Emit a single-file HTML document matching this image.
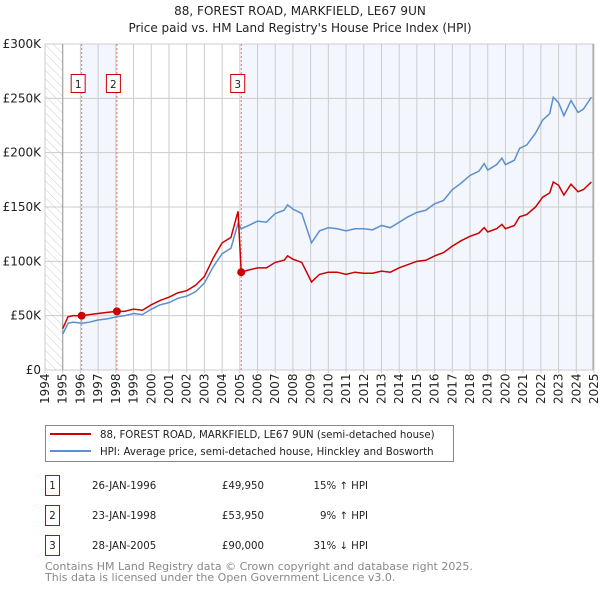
<!DOCTYPE html>
<html><head><meta charset="utf-8"><style>
body{margin:0;background:#fff}
svg{display:block;font-family:"DejaVu Sans","Liberation Sans",sans-serif}
</style></head><body>
<svg id="c" width="600" height="590" xmlns="http://www.w3.org/2000/svg">
<defs><pattern id="hatch" width="6" height="6" patternUnits="userSpaceOnUse" patternTransform="rotate(-45)"><line x1="0" y1="0" x2="0" y2="6" stroke="#ccc" stroke-width="1"/></pattern></defs>
<text x="300" y="15" text-anchor="middle" font-size="12" fill="#222">88, FOREST ROAD, MARKFIELD, LE67 9UN</text>
<text x="300" y="32" text-anchor="middle" font-size="12" fill="#222">Price paid vs. HM Land Registry's House Price Index (HPI)</text>
<g id="plot"></g>
<g>
<rect x="45.5" y="425.5" width="408" height="36" fill="#fff" stroke="#888"/>
<line x1="50" y1="434" x2="91" y2="434" stroke="#cc0000" stroke-width="2"/>
<text x="100" y="438" font-size="10.2" fill="#222">88, FOREST ROAD, MARKFIELD, LE67 9UN (semi-detached house)</text>
<line x1="50" y1="451" x2="91" y2="451" stroke="#5b8fd0" stroke-width="2"/>
<text x="100" y="455" font-size="10.2" fill="#222">HPI: Average price, semi-detached house, Hinckley and Bosworth</text>
</g>
<g font-size="10.2" fill="#222">
<rect x="45.5" y="475.5" width="14" height="20" fill="#fff" stroke="#cc0000"/><text x="52.5" y="489" text-anchor="middle">1</text>
<text x="92" y="489">26-JAN-1996</text><text x="264" y="489" text-anchor="end">£49,950</text><text x="368" y="489" text-anchor="end">15% ↑ HPI</text>
<rect x="45.5" y="505.5" width="14" height="20" fill="#fff" stroke="#cc0000"/><text x="52.5" y="519" text-anchor="middle">2</text>
<text x="92" y="519">23-JAN-1998</text><text x="264" y="519" text-anchor="end">£53,950</text><text x="368" y="519" text-anchor="end">9% ↑ HPI</text>
<rect x="45.5" y="535.5" width="14" height="20" fill="#fff" stroke="#cc0000"/><text x="52.5" y="549" text-anchor="middle">3</text>
<text x="92" y="549">28-JAN-2005</text><text x="264" y="549" text-anchor="end">£90,000</text><text x="368" y="549" text-anchor="end">31% ↓ HPI</text>
</g>
<text x="45" y="570" font-size="11" fill="#888">Contains HM Land Registry data © Crown copyright and database right 2025.</text>
<text x="45" y="581" font-size="11" fill="#888">This data is licensed under the Open Government Licence v3.0.</text>
</svg>
<script>
const years=[1995.0,1995.3,1995.6,1996.07,1996.5,1997,1997.5,1998.06,1998.5,1999,1999.5,2000,2000.5,2001,2001.5,2002,2002.5,2003,2003.5,2004,2004.5,2004.9,2005.08,2005.5,2006,2006.5,2007,2007.5,2007.7,2008,2008.5,2009.05,2009.5,2010,2010.5,2011,2011.5,2012,2012.5,2013,2013.5,2014,2014.5,2015,2015.5,2016,2016.5,2017,2017.5,2018,2018.5,2018.8,2019,2019.5,2019.8,2020,2020.5,2020.8,2021.2,2021.7,2022.1,2022.5,2022.7,2023.0,2023.3,2023.7,2024.1,2024.4,2024.85];
const hpiValues=[33,43,44,43,44,46,47,49,50,52,51,56,60,62,66,68,72,80,95,107,112,135,130,133,137,136,144,147,152,148,144,117,128,131,130,128,130,130,129,133,131,136,141,145,147,153,156,166,172,179,183,190,184,189,195,189,193,204,207,218,230,236,251,246,234,248,237,240,251];
const priceValues=[38,49,50,49.95,51,52,53,53.95,54,56,55,60,64,67,71,73,78,86,103,117,122,146,90,92,94,94,99,101,105,102,99,81,88,90,90,88,90,89,89,91,90,94,97,100,101,105,108,114,119,123,126,131,127,130,134,130,133,141,143,150,159,163,173,170,161,171,164,166,173];
const saleYears=[1996.07,1998.06,2005.08];
const salePrices=[49.95,53.95,90];
const saleLabels=["1","2","3"];
const yTicks=[0,50,100,150,200,250,300];
const yTickLabels=["£0","£50K","£100K","£150K","£200K","£250K","£300K"];
const xTicks=[1994,1995,1996,1997,1998,1999,2000,2001,2002,2003,2004,2005,2006,2007,2008,2009,2010,2011,2012,2013,2014,2015,2016,2017,2018,2019,2020,2021,2022,2023,2024,2025];

const X0=45,X1=594,Y0=370,Y1=44;
const xs=y=>X0+(y-1994)/(2025-1994)*(X1-X0);
const ys=v=>Y0-v/300*(Y0-Y1);
const NS="http://www.w3.org/2000/svg";
const g=document.getElementById('plot');
function mk(t,a,p){const e=document.createElementNS(NS,t);for(const k in a)e.setAttribute(k,a[k]);(p||g).appendChild(e);return e;}

const h1=mk('rect',{x:X0,y:Y1,width:xs(1995)-X0,height:Y0-Y1,fill:'url(#hatch)'});


const s1=mk('rect',{x:xs(saleYears[0]),y:Y1,width:xs(saleYears[1])-xs(saleYears[0]),height:Y0-Y1,fill:'#f3f6fd'});


const s2=mk('rect',{x:xs(saleYears[2]),y:Y1,width:X1-xs(saleYears[2]),height:Y0-Y1,fill:'#f3f6fd'});



yTicks.forEach((v,i)=>{
  const l=mk('line',{x1:X0,x2:X1,y1:ys(v),y2:ys(v),stroke:'#ccc'});
  
  
  const t=mk('text',{x:X0-4,y:ys(v)+4,'text-anchor':'end','font-size':'12',fill:'#222'});
  
  
  t.textContent=yTickLabels[i];
});
xTicks.forEach(yr=>{
  const l=mk('line',{x1:xs(yr),x2:xs(yr),y1:Y1,y2:Y0+3,stroke:'#ccc'});
  
  
  const t=mk('text',{x:0,y:0,transform:`translate(${xs(yr)+4},${Y0+34}) rotate(-90)`,'font-size':'12',fill:'#222'});
  
  
  t.textContent=yr;
});
mk('line',{x1:xs(1995),x2:xs(1995),y1:Y1,y2:Y0,stroke:'#999'});
mk('line',{x1:X1-1,x2:X1-1,y1:Y1,y2:Y0,stroke:'#999'});

saleYears.forEach((yr,i)=>{
  const l=mk('line',{x1:xs(yr),x2:xs(yr),y1:Y1,y2:Y0,stroke:'#f07070',"stroke-dasharray":'2,2'});
  
  
  const r=mk('rect',{x:xs(yr)-10.5,y:74.5,width:14,height:18,fill:'#fff',stroke:'#cc0000'});
  
  
  const t=mk('text',{x:xs(yr)-3.5,y:88,'text-anchor':'middle','font-size':'10.5',fill:'#222'});
  
  
  t.textContent=saleLabels[i];
});

const hp=mk('polyline',{points:years.map((y,i)=>xs(y)+','+ys(hpiValues[i])).join(' '),fill:'none',stroke:'#5b8fd0','stroke-width':1.5});


const pp=mk('polyline',{points:years.map((y,i)=>xs(y)+','+ys(priceValues[i])).join(' '),fill:'none',stroke:'#cc0000','stroke-width':1.5});


saleYears.forEach((yr,i)=>{
  const c=mk('circle',{cx:xs(yr),cy:ys(salePrices[i]),r:4,fill:'#cc0000'});
  
  
});
</script>
</body></html>
